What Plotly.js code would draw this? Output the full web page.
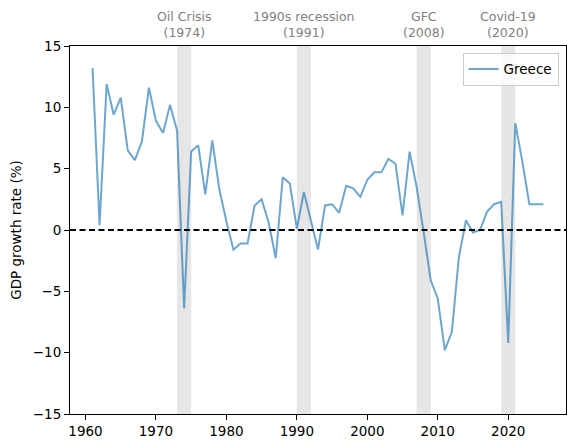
<!DOCTYPE html>
<html>
<head>
<meta charset="utf-8">
<script src="https://cdn.plot.ly/plotly-3.0.1.min.js"></script>
<style>html,body{margin:0;padding:0;background:#fff;}#chart{width:575px;height:448px;}</style>
</head>
<body>
<div id="chart"></div>
<script>
const years = [];
for (let y = 1961; y <= 2025; y++) years.push(y);
const growth = [
  13.2, 0.4, 11.9, 9.4, 10.8, 6.5, 5.7, 7.2, 11.6, 8.9,
  7.9, 10.2, 8.1, -6.4, 6.4, 6.9, 2.9, 7.3, 3.3, 0.7,
  -1.6, -1.1, -1.1, 2.0, 2.5, 0.6, -2.3, 4.3, 3.8, 0.1,
  3.1, 0.7, -1.6, 2.0, 2.1, 1.4, 3.6, 3.4, 2.7, 4.1,
  4.7, 4.7, 5.8, 5.4, 1.2, 6.4, 3.5, -0.2, -4.1, -5.6,
  -9.8, -8.3, -2.2, 0.8, -0.2, 0.0, 1.5, 2.1, 2.3, -9.2,
  8.7, 5.6, 2.1, 2.1, 2.1
];
const crisisNames = ["Oil Crisis", "1990s recession", "GFC", "Covid-19"];
const crisisYears = [1974, 1991, 2008, 2020];
const crisisStart = [1973, 1990, 2007, 2019];
const crisisEnd = [1975, 1992, 2009, 2021];
const seriesName = "Greece";

const shapes = crisisStart.map((s, i) => ({
  type: "rect", xref: "x", yref: "paper", x0: s, x1: crisisEnd[i], y0: 0, y1: 1,
  fillcolor: "rgba(128,128,128,0.2)", line: {width: 0}, layer: "below"
}));
shapes.push({
  type: "line", xref: "paper", yref: "y", x0: 0, x1: 1, y0: 0, y1: 0,
  line: {color: "black", width: 2, dash: "6px,3.5px"}
});

const annotations = crisisNames.map((n, i) => ({
  text: n + "<br>(" + crisisYears[i] + ")", x: crisisYears[i], xref: "x",
  y: 1, yref: "paper", yanchor: "bottom", yshift: 4, showarrow: false,
  font: {family: "DejaVu Sans", size: 12.5, color: "#808080"}, align: "center"
}));

const trace = {
  x: years, y: growth, type: "scatter", mode: "lines", name: seriesName,
  line: {color: "rgba(31,119,180,0.65)", width: 2}
};

const layout = {
  width: 575, height: 448,
  margin: {l: 70, r: 8.5, t: 45.5, b: 33.7, pad: 0},
  paper_bgcolor: "white", plot_bgcolor: "white",
  font: {family: "DejaVu Sans", size: 13.5, color: "black"},
  showlegend: true,
  legend: {x: 0.985, y: 0.982, xanchor: "right", yanchor: "top",
    bgcolor: "rgba(255,255,255,0.8)", bordercolor: "#cccccc", borderwidth: 1,
    font: {size: 13.5}},
  xaxis: {range: [1957.8, 2028.2], tickvals: [1960, 1970, 1980, 1990, 2000, 2010, 2020],
    ticks: "outside", ticklen: 5, tickwidth: 1, tickcolor: "black",
    showgrid: false, zeroline: false, showline: true, linecolor: "black", linewidth: 1, mirror: true},
  yaxis: {range: [-15, 15], tickvals: [-15, -10, -5, 0, 5, 10, 15],
    ticks: "outside", ticklen: 5, tickwidth: 1, tickcolor: "black",
    showgrid: false, zeroline: false, showline: true, linecolor: "black", linewidth: 1, mirror: true,
    title: {text: "GDP growth rate (%)", standoff: 8, font: {size: 13.5}}},
  shapes: shapes,
  annotations: annotations
};

Plotly.newPlot("chart", [trace], layout, {displayModeBar: false, staticPlot: true});
</script>
</body>
</html>
